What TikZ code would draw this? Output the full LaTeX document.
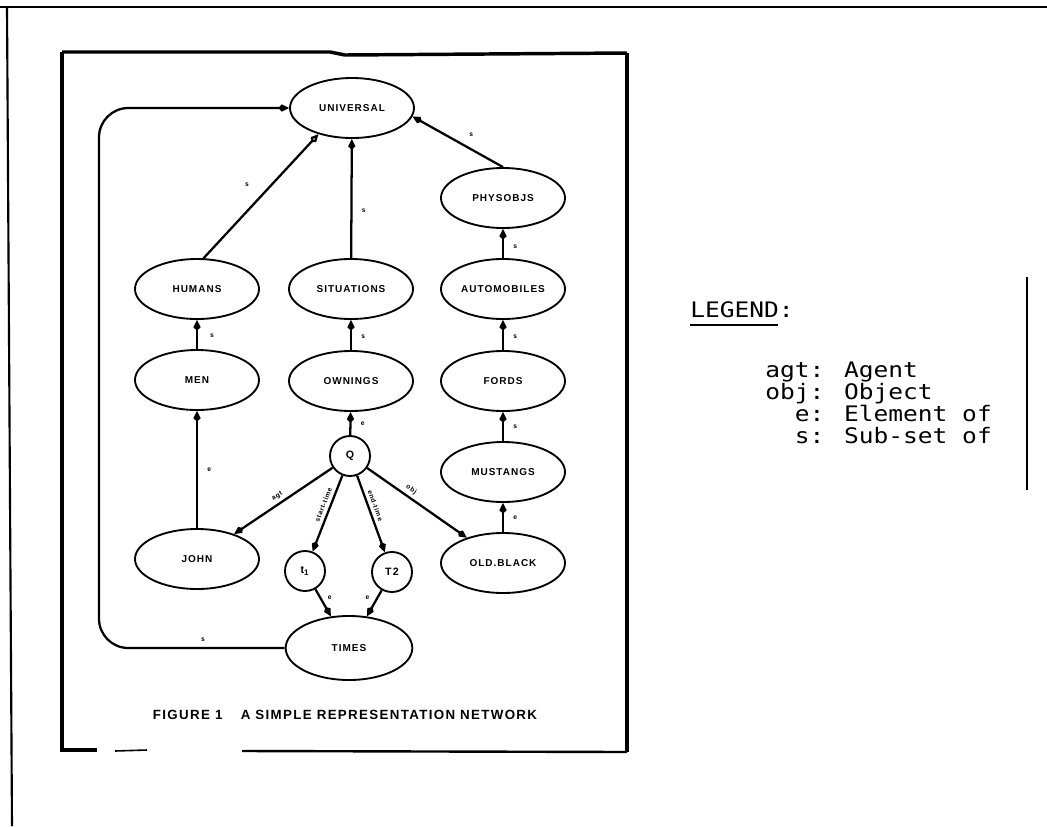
\documentclass[tikz,border=0pt]{standalone}
\usepackage{fontspec}
\setmainfont{Liberation Sans}
\newfontfamily\nodefont{Liberation Sans}[LetterSpace=10]
\newfontfamily\legfont{DejaVu Sans Mono}[FakeStretch=1.15]
\usetikzlibrary{arrows.meta,shapes.geometric}

\begin{document}
\begin{tikzpicture}[x=0.75pt,y=-0.75pt,
  concept/.style={draw, ellipse, line width=1.4pt, minimum width=93pt,
    minimum height=45pt, inner sep=0pt,
    font=\nodefont\bfseries\fontsize{7.5}{8}\selectfont},
  token/.style={draw, circle, line width=1.4pt, minimum size=30pt, inner sep=0pt,
    font=\nodefont\bfseries\fontsize{8}{9}\selectfont},
  link/.style={line width=1.7pt, -{Kite[length=8pt,width=5.5pt,inset=2.5pt]}},
  openlink/.style={line width=1.7pt, -{Kite[open,length=8pt,width=5.5pt,inset=2.5pt]}},
  lbl/.style={font=\nodefont\bfseries\fontsize{5}{6}\selectfont, inner sep=1pt},
  rel/.style={font=\nodefont\bfseries\fontsize{5}{6}\selectfont, inner sep=0.5pt, sloped},
  frame/.style={line width=2pt},
  boxline/.style={line width=2.6pt},
  leg/.style={font=\legfont\fontsize{16}{19}\selectfont, inner sep=0pt, anchor=base west},
]
\useasboundingbox (0,0) rectangle (1047,826);

% page frame
\draw[frame] (0,7) -- (1047,7);
\draw[line width=1.6pt] (7,7) -- (12,826);
\draw[line width=1pt] (1027,277) -- (1027,490);

% figure box
\draw[boxline] (62,52) -- (330,52) -- (345,55) -- (627,53);
\draw[boxline] (62,52) -- (62,750) -- (97,750);
\draw[boxline] (627,53) -- (627,752);
\draw[line width=1.2pt] (115,751) -- (147,750);
\draw[line width=1.8pt] (242,751) -- (627,752);

% concepts
\node[concept] (universal) at (352,108) {UNIVERSAL};
\node[concept] (physobjs) at (503,198) {PHYSOBJS};
\node[concept] (humans) at (197,289) {HUMANS};
\node[concept] (situations) at (351,289) {SITUATIONS};
\node[concept] (automobiles) at (503,289) {AUTOMOBILES};
\node[concept] (men) at (197,380) {MEN};
\node[concept] (ownings) at (351,381) {OWNINGS};
\node[concept] (fords) at (503,381) {FORDS};
\node[concept] (mustangs) at (503,472) {MUSTANGS};
\node[concept] (john) at (197,559) {JOHN};
\node[concept] (oldblack) at (503,563) {OLD.BLACK};
\node[concept, minimum width=95pt, minimum height=48pt] (times) at (349,648) {TIMES};

% instances
\node[token] (q) at (350,456) {Q};
\node[token] (t1) at (305,571) {t\textsubscript{1}};
\node[token] (t2) at (392,572) {T2};

% loop from TIMES up to UNIVERSAL
\coordinate (loopx) at (99,400);
\draw[link, rounded corners=22pt] (times.west) -| node[lbl, pos=0.22, above=3pt] {s} (loopx) |- (universal.west);

% subset / element links
\draw[openlink] (humans.78) -- node[lbl, pos=0.59, left=15pt] {s} (universal.-142);
\draw[link] (situations) -- node[lbl, pos=0.4, right=6pt] {s} (universal);
\draw[link] (physobjs.north) -- node[lbl, pos=0.35, above=8pt] {s} (universal.-8);
\draw[link] (automobiles) -- node[lbl, pos=0.4, right=6pt] {s} (physobjs);
\draw[link] (men) -- node[lbl, pos=0.45, right=8pt] {s} (humans);
\draw[link] (ownings) -- node[lbl, pos=0.45, right=6pt] {s} (situations);
\draw[link] (fords) -- node[lbl, pos=0.45, right=6pt] {s} (automobiles);
\draw[link] (john) -- node[lbl, pos=0.5, right=6pt] {e} (men);
\draw[link] (q) -- node[lbl, pos=0.5, right=6pt] {e} (ownings);
\draw[link] (mustangs) -- node[lbl, pos=0.5, right=6pt] {s} (fords);
\draw[link] (oldblack) -- node[lbl, pos=0.5, right=6pt] {e} (mustangs);

% case relations of the owning
\draw[link] (q) -- node[rel, pos=0.52, above=2pt] {agt} (john);
\draw[link] (q) -- node[rel, pos=0.42, above=2pt] {start-time} (t1);
\draw[link] (q) -- node[rel, pos=0.42, above=2pt] {end-time} (t2);
\draw[link] (q) -- node[rel, pos=0.4, above=2pt] {obj} (oldblack);

% time points
\draw[link] (t1) -- node[lbl, pos=0.3, right=4pt] {e} (times);
\draw[link] (t2) -- node[lbl, pos=0.3, left=4pt] {e} (times);

% caption
\node[font=\nodefont\bfseries\fontsize{10}{12}\selectfont] (caption) at (345,715)
  {FIGURE 1\quad\ A SIMPLE REPRESENTATION NETWORK};

% legend
\node[leg] (legtitle) at (690,317) {LEGEND:};
\draw[line width=1.2pt] (690,325) -- (778,325);
\node[leg] (lagt) at (765,377) {agt: Agent};
\node[leg] (lobj) at (765,399) {obj: Object};
\node[leg] (le) at (794.6,421) {e: Element of};
\node[leg] (ls) at (794.6,443) {s: Sub-set of};
\end{tikzpicture}
\end{document}
